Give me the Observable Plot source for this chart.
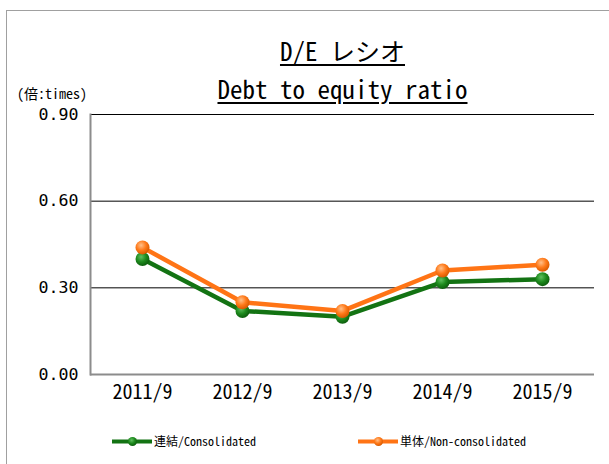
<!DOCTYPE html>
<html>
<head>
<meta charset="utf-8">
<script src="https://cdn.jsdelivr.net/npm/d3@7"></script>
<script src="https://cdn.jsdelivr.net/npm/@observablehq/plot@0.6"></script>
<style>
  html, body { margin: 0; padding: 0; background: #fff; }
  #wrap { position: relative; width: 609px; height: 464px; overflow: hidden; background: #fff;
    font-family: "Noto Sans Mono CJK JP", "Liberation Sans Narrow", "DejaVu Sans Condensed", "Noto Sans CJK JP", sans-serif; color: #000; }
  #frame { position: absolute; left: 6px; top: 10px; width: 700px; height: 600px; border: 1px solid #a0a0a0; box-sizing: border-box; }
  #chart { position: absolute; left: 0; top: 0; }
  .title { position: absolute; left: 90px; width: 505px; text-align: center; font-size: 25px; line-height: 30px; text-decoration: underline; text-underline-offset: 3px; text-decoration-thickness: 2px; white-space: nowrap; }
  #unit { position: absolute; left: 17px; top: 86px; font-size: 14px; line-height: 14px; white-space: nowrap; }
  .leg { position: absolute; top: 432px; font-size: 12px; display: flex; align-items: center; white-space: nowrap; }
  .leg svg { margin-right: 2px; }
  .yax text { font-family: "DejaVu Sans Mono", monospace; }
</style>
</head>
<body>
<div id="wrap">
  <div id="frame"></div>
  <div id="chart"></div>
  <div class="title" style="top: 35px;">D/E レシオ</div>
  <div class="title" style="top: 73px;">Debt to equity ratio</div>
  <div id="unit">(倍:times)</div>
  <div class="leg" id="leg1" style="left: 112px;"></div>
  <div class="leg" id="leg2" style="left: 358px;"></div>
</div>
<script>
const periods = ["2011/9", "2012/9", "2013/9", "2014/9", "2015/9"];
const consolidated = [0.40, 0.22, 0.20, 0.32, 0.33];
const nonConsolidated = [0.44, 0.25, 0.22, 0.36, 0.38];
const seriesNames = ["連結/Consolidated", "単体/Non-consolidated"];
const seriesColors = ["#137313", "#ff7415"];
const gradIds = ["gGreen", "gOrange"];
const yTicks = [0, 0.3, 0.6, 0.9];

const rows = [];
periods.forEach((p, i) => {
  rows.push({period: p, value: consolidated[i], series: seriesNames[0]});
  rows.push({period: p, value: nonConsolidated[i], series: seriesNames[1]});
});

const font = '"Noto Sans Mono CJK JP", "Liberation Sans Narrow", "DejaVu Sans Condensed", "Noto Sans CJK JP", sans-serif';

const plot = Plot.plot({
  width: 609,
  height: 464,
  marginLeft: 90,
  marginRight: 15,
  marginTop: 114,
  marginBottom: 90,
  style: {fontFamily: font, fontSize: "20px", color: "#000", background: "transparent"},
  x: {type: "band", domain: periods, padding: 0, label: null, tickSize: 0, tickPadding: 10},
  y: {domain: [0, 0.9], ticks: yTicks, tickFormat: d3.format(".2f"), label: null, tickSize: 0, tickPadding: 12},
  color: {domain: seriesNames, range: seriesColors},
  marks: [
    Plot.ruleY(yTicks.filter(d => d > 0), {stroke: "#000", strokeWidth: 1}),
    Plot.ruleY([0], {stroke: "#8c8c8c", strokeWidth: 2}),
    Plot.axisX({tickSize: 0, tickPadding: 10, fontSize: 20}),
    Plot.axisY({ticks: yTicks, tickFormat: d3.format(".2f"), tickSize: 0, tickPadding: 12, fontSize: 16.6, className: "yax"}),
    Plot.frame({anchor: "left", stroke: "#8c8c8c", strokeWidth: 2}),
    Plot.line(rows, {x: "period", y: "value", z: "series", stroke: "series", strokeWidth: 4.5, strokeLinejoin: "round"}),
    Plot.dot(rows, {x: "period", y: "value", r: 7, fill: d => "url(#" + gradIds[seriesNames.indexOf(d.series)] + ")", stroke: null})
  ]
});

// gradient defs for spherical markers
const ns = "http://www.w3.org/2000/svg";
function addDefs(svg) {
  const defs = document.createElementNS(ns, "defs");
  const stops = [
    ["gGreen", ["#5fbf5f", "#1d8a1d", "#0d5e0d"]],
    ["gOrange", ["#ffc08a", "#ff7a1a", "#d85a00"]]
  ];
  for (const [id, cols] of stops) {
    const g = document.createElementNS(ns, "radialGradient");
    g.setAttribute("id", id);
    g.setAttribute("cx", "0.4"); g.setAttribute("cy", "0.35"); g.setAttribute("r", "0.65");
    [["0", cols[0]], ["0.55", cols[1]], ["1", cols[2]]].forEach(([o, c]) => {
      const s = document.createElementNS(ns, "stop");
      s.setAttribute("offset", o); s.setAttribute("stop-color", c);
      g.appendChild(s);
    });
    defs.appendChild(g);
  }
  svg.insertBefore(defs, svg.firstChild);
}
addDefs(plot);
document.getElementById("chart").appendChild(plot);

// legend swatches
["leg1", "leg2"].forEach((id, i) => {
  const el = document.getElementById(id);
  const sw = Plot.plot({
    width: 40, height: 14, margin: 0,
    x: {domain: [0, 1], axis: null}, y: {domain: [0, 1], axis: null},
    style: {background: "transparent"},
    marks: [
      Plot.ruleY([0.5], {x1: 0, x2: 1, stroke: seriesColors[i], strokeWidth: 4}),
      Plot.dot([0.5], {x: d => d, y: 0.5, r: 4.5, fill: "url(#" + gradIds[i] + ")"})
    ]
  });
  addDefs(sw);
  el.appendChild(sw);
  const t = document.createElement("span");
  t.textContent = seriesNames[i];
  el.appendChild(t);
});
</script>
</body>
</html>
